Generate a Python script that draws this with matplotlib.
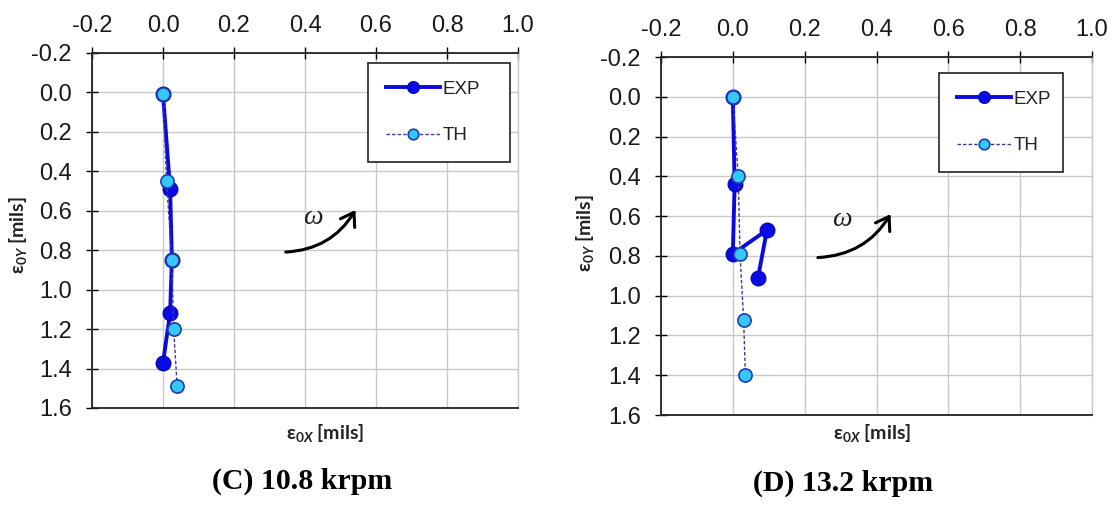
import matplotlib
matplotlib.use("Agg")
import matplotlib.pyplot as plt
from matplotlib.patches import FancyArrowPatch

plt.rcParams['font.family'] = ['Liberation Sans', 'DejaVu Sans']
plt.rcParams['axes.unicode_minus'] = False
plt.rcParams['mathtext.fontset'] = 'custom'
plt.rcParams['mathtext.it'] = 'Lato:italic:bold'
plt.rcParams['mathtext.rm'] = 'Lato:bold'
plt.rcParams['mathtext.bf'] = 'Lato:bold'

# ---------------- data ----------------
x_ticks = [-0.2, 0.0, 0.2, 0.4, 0.6, 0.8, 1.0]
y_ticks = [-0.2, 0.0, 0.2, 0.4, 0.6, 0.8, 1.0, 1.2, 1.4, 1.6]

# (C) 10.8 krpm
exp_x_c = [0.00, 0.020, 0.025, 0.020, 0.000]
exp_y_c = [0.01, 0.490, 0.850, 1.120, 1.370]
th_x_c = [0.00, 0.010, 0.025, 0.030, 0.040]
th_y_c = [0.01, 0.450, 0.850, 1.200, 1.490]

# (D) 13.2 krpm
exp_x_d = [0.00, 0.005, 0.000, 0.095, 0.070]
exp_y_d = [0.00, 0.440, 0.790, 0.670, 0.910]
th_x_d = [0.00, 0.015, 0.020, 0.030, 0.035]
th_y_d = [0.00, 0.400, 0.790, 1.120, 1.400]

captions = ['(C) 10.8 krpm', '(D) 13.2 krpm']
series_names = ['EXP', 'TH']

W, H = 1113, 512
fig = plt.figure(figsize=(W / 100, H / 100), dpi=100)


def fx(px):
    return px / W


def fy(py):
    return 1 - py / H


panels = [
    dict(rect=[fx(92), fy(408), fx(518) - fx(92), fy(53) - fy(408)],
         ex=exp_x_c, ey=exp_y_c, tx=th_x_c, ty=th_y_c,
         leg=(0.648, 0.713, 0.333, 0.259),
         arrow=((0.338, 0.81), (0.546, 0.584)), omega=(0.421, 0.632),
         ylab=(18, 235), xlab=(325, 433), cap=(302, 481), cap_text=captions[0]),
    dict(rect=[fx(661), fy(415), fx(1092) - fx(661), fy(57) - fy(415)],
         ex=exp_x_d, ey=exp_y_d, tx=th_x_d, ty=th_y_d,
         leg=(0.645, 0.704, 0.288, 0.251),
         arrow=((0.229, 0.809), (0.443, 0.578)), omega=(0.304, 0.619),
         ylab=(585, 233), xlab=(872, 433), cap=(843, 483), cap_text=captions[1]),
]

grid_col = '#C8C8C8'

for p in panels:
    ax = fig.add_axes(p['rect'])
    ax.set_xlim(-0.2, 1.0)
    ax.set_ylim(1.6, -0.2)
    ax.set_xticks(x_ticks)
    ax.set_yticks(y_ticks)
    ax.set_xticklabels([f"{v:.1f}" for v in x_ticks])
    ax.set_yticklabels([f"{v:.1f}" for v in y_ticks])
    ax.xaxis.tick_top()
    ax.tick_params(axis='x', direction='inout', length=9, width=1, pad=7,
                   labelsize=17, labelcolor='#1a1a1a', top=True, bottom=False)
    ax.tick_params(axis='y', direction='inout', length=9, width=1, pad=10,
                   labelsize=17, labelcolor='#1a1a1a', left=True, right=False)
    ax.grid(True, color=grid_col, linewidth=1)
    ax.set_axisbelow(True)
    for s in ['top', 'left', 'bottom']:
        ax.spines[s].set_color('#222222')
        ax.spines[s].set_linewidth(1.3)
    ax.spines['right'].set_color(grid_col)
    ax.spines['right'].set_linewidth(1)

    ax.plot(p['ex'], p['ey'], '-o', color='#0A0AE0', lw=2.8, ms=10.5,
            mfc='#0A0AE6', mec='#0808B8', mew=1, label=series_names[0], zorder=3)
    ax.plot(p['tx'], p['ty'], '--o', color='#3A3A9A', lw=1, dashes=(2.5, 1.5),
            ms=9.5, mfc='#33C8F5', mec='#1E3CB4', mew=1.2, label=series_names[1], zorder=4)

    leg = ax.legend(loc='upper left', bbox_to_anchor=p['leg'], mode='expand',
                    borderaxespad=0, fontsize=13.5, frameon=True, fancybox=False,
                    framealpha=1, edgecolor='#222222', handlelength=2.9,
                    handletextpad=0.12, labelspacing=1.55, borderpad=0.95,
                    markerscale=0.8)
    leg.get_frame().set_linewidth(1.2)
    for t in leg.get_texts():
        t.set_color('#222222')

    (x0, y0), (x1, y1) = p['arrow']
    arr = FancyArrowPatch((x0, y0), (x1, y1), connectionstyle='arc3,rad=0.28',
                          arrowstyle='->,head_length=0.45,head_width=0.3',
                          mutation_scale=20, lw=2.2, color='black', zorder=5)
    ax.add_patch(arr)
    ax.text(p['omega'][0], p['omega'][1], 'ω', family=['Liberation Serif', 'DejaVu Serif'],
            style='italic', fontsize=20, ha='center', va='center', color='#222222')

    fig.text(fx(p['ylab'][0]), fy(p['ylab'][1]), r'ε$_{\mathit{0Y}}$ [mils]', rotation=90,
             ha='center', va='center', fontsize=14, fontweight='bold',
             family=['Lato', 'DejaVu Sans'], color='#222222')
    fig.text(fx(p['xlab'][0]), fy(p['xlab'][1]), r'ε$_{\mathit{0X}}$ [mils]',
             ha='center', va='center', fontsize=14, fontweight='bold',
             family=['Lato', 'DejaVu Sans'], color='#222222')
    fig.text(fx(p['cap'][0]), fy(p['cap'][1]), p['cap_text'], ha='center', va='center',
             fontsize=21.5, fontweight='bold', family=['Liberation Serif', 'DejaVu Serif'],
             color='black')

fig.savefig('out.png', dpi=100)
